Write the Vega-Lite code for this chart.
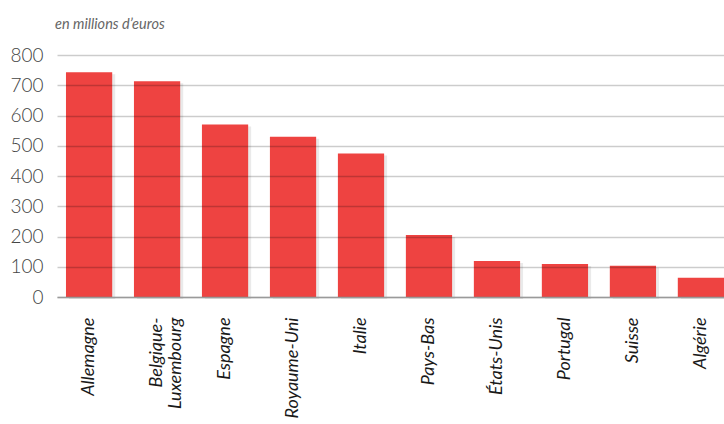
{
  "$schema": "https://vega.github.io/schema/vega-lite/v6.json",
  "width": 676,
  "height": 242,
  "autosize": {"type": "none"},
  "padding": {"left": 57, "top": 55, "right": 0, "bottom": 127},
  "background": "white",
  "title": {
    "text": "en millions d’euros",
    "anchor": "start",
    "frame": "group",
    "orient": "top",
    "offset": 14,
    "font": "Lato",
    "fontSize": 14.5,
    "fontStyle": "italic",
    "fontWeight": 400,
    "color": "#666666",
    "dx": -2
  },
  "config": {
    "view": {"stroke": null},
    "font": "Lato"
  },
  "data": {
    "values": [
      {"pays": "Allemagne", "valeur": 743},
      {"pays": "Belgique-Luxembourg", "valeur": 713},
      {"pays": "Espagne", "valeur": 570},
      {"pays": "Royaume-Uni", "valeur": 530},
      {"pays": "Italie", "valeur": 474},
      {"pays": "Pays-Bas", "valeur": 205},
      {"pays": "États-Unis", "valeur": 119},
      {"pays": "Portugal", "valeur": 109},
      {"pays": "Suisse", "valeur": 103},
      {"pays": "Algérie", "valeur": 64}
    ]
  },
  "encoding": {
    "x": {
      "field": "pays",
      "type": "nominal",
      "sort": null,
      "scale": {"paddingInner": 0.32, "paddingOuter": 0.132},
      "axis": {
        "title": null,
        "labelAngle": -90,
        "labelAlign": "right",
        "labelBaseline": "middle",
        "labelPadding": 20,
        "labelFont": "Lato",
        "labelFontSize": 18,
        "labelFontStyle": "italic",
        "labelFontWeight": 400,
        "labelColor": "#1a1a1a",
        "labelLineHeight": 19,
        "labelExpr": "datum.label == 'Belgique-Luxembourg' ? ['Belgique-', 'Luxembourg'] : datum.label",
        "ticks": false,
        "domain": true,
        "domainColor": "#9a9a9a",
        "domainWidth": 1.5,
        "grid": false,
        "zindex": 1
      }
    },
    "y": {
      "field": "valeur",
      "type": "quantitative",
      "scale": {"domain": [0, 800], "nice": false},
      "axis": {
        "title": null,
        "values": [0, 100, 200, 300, 400, 500, 600, 700, 800],
        "ticks": false,
        "domain": false,
        "labelPadding": 14,
        "labelFont": "Lato",
        "labelFontSize": 19,
        "labelFontWeight": 300,
        "labelColor": "#444444",
        "gridColor": "#000000",
        "gridOpacity": 0.2,
        "gridWidth": 1.5,
        "zindex": 1
      }
    }
  },
  "layer": [
    {
      "mark": {"type": "bar", "color": "#888888", "opacity": 0.18, "xOffset": 3, "yOffset": 2}
    },
    {
      "mark": {"type": "bar", "color": "#ee4341"}
    }
  ]
}
